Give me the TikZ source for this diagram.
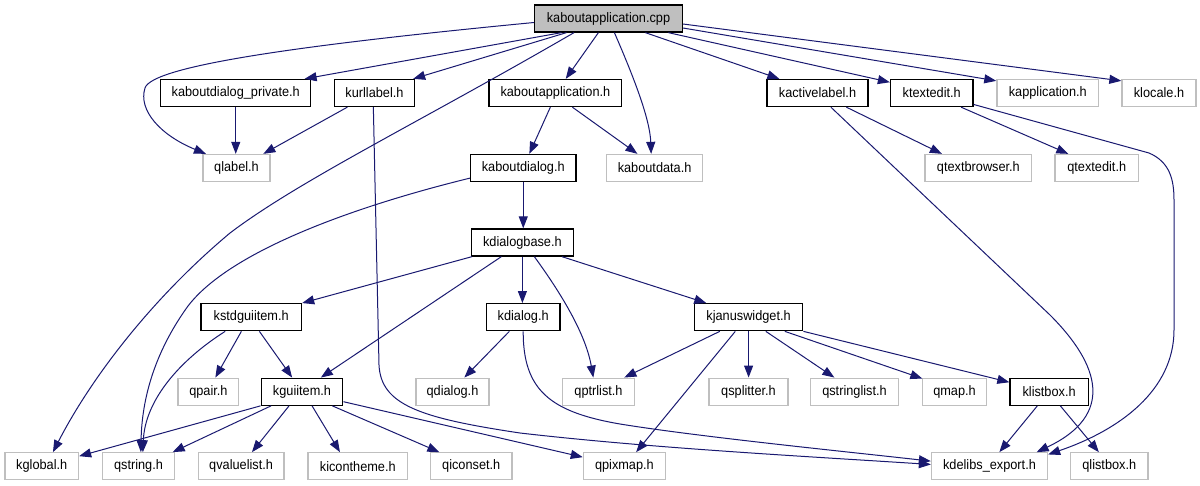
\documentclass[tikz,border=0pt]{standalone}
\usepackage{fontspec}
\setmainfont{Liberation Sans}[FakeStretch=0.93]
\usetikzlibrary{arrows.meta,calc}
\definecolor{edgec}{HTML}{191970}
\definecolor{grayb}{HTML}{BFBFBF}
\begin{document}
\begin{tikzpicture}[x=1pt,y=-1pt,
  box/.style={draw=black, line width=1.3pt, minimum height=27pt, inner sep=0pt, font=\fontsize{13.7}{15}\selectfont, anchor=center},
  ext/.style={box, draw=grayb},
  root/.style={box, fill=grayb, draw=black},
  dep/.style={draw=edgec, line width=1pt, -{Triangle[length=12pt,width=9pt]}}]
\useasboundingbox (0,0) rectangle (1200,485);
% row 0
\node[root, minimum width=147.7pt] (cpp) at (608.5,18.5) {kaboutapplication.cpp};
% row 1
\node[box, minimum width=150pt] (priv) at (235.75,93) {kaboutdialog\_private.h};
\node[box, minimum width=80pt] (kurl) at (374.5,93) {kurllabel.h};
\node[box, minimum width=132.8pt] (kapph) at (555.4,93) {kaboutapplication.h};
\node[box, minimum width=101pt] (kact) at (817.5,93) {kactivelabel.h};
\node[box, minimum width=82.5pt] (ktext) at (931.75,93) {ktextedit.h};
\node[ext, minimum width=101.8pt] (kappl) at (1047.8,93) {kapplication.h};
\node[ext, minimum width=74pt] (kloc) at (1159,93) {klocale.h};
% row 2
\node[ext, minimum width=67pt] (qlabel) at (236.5,168) {qlabel.h};
\node[box, minimum width=105.5pt] (kadlg) at (523.25,168) {kaboutdialog.h};
\node[ext, minimum width=96pt] (kadata) at (654.6,168) {kaboutdata.h};
\node[ext, minimum width=106.7pt] (qtb) at (978.4,168) {qtextbrowser.h};
\node[ext, minimum width=83.5pt] (qte) at (1096.75,168) {qtextedit.h};
% row 3
\node[box, minimum width=101.6pt] (kdb) at (522.4,242.5) {kdialogbase.h};
% row 4
\node[box, minimum width=100.7pt] (kstd) at (251.2,317.2) {kstdguiitem.h};
\node[box, minimum width=73.6pt] (kdlg) at (523.2,317.2) {kdialog.h};
\node[box, minimum width=108.3pt] (kjan) at (748.6,317.2) {kjanuswidget.h};
% row 5
\node[ext, minimum width=60.8pt] (qpair) at (208.4,391.7) {qpair.h};
\node[box, minimum width=81.6pt] (kgui) at (302,391.7) {kguiitem.h};
\node[ext, minimum width=73pt] (qdlg) at (452.5,391.7) {qdialog.h};
\node[ext, minimum width=72.5pt] (qptr) at (598.5,391.7) {qptrlist.h};
\node[ext, minimum width=79pt] (qspl) at (748.5,391.7) {qsplitter.h};
\node[ext, minimum width=88pt] (qsl) at (854.5,391.7) {qstringlist.h};
\node[ext, minimum width=64.2pt] (qmap) at (954.5,391.7) {qmap.h};
\node[box, minimum width=78.2pt] (klb) at (1049.1,391.7) {klistbox.h};
% row 6
\node[ext, minimum width=73.5pt] (kglob) at (41.75,466.3) {kglobal.h};
\node[ext, minimum width=72pt] (qstr) at (138.5,466.3) {qstring.h};
\node[ext, minimum width=85.8pt] (qvl) at (241.1,466.3) {qvaluelist.h};
\node[ext, minimum width=99.6pt] (kicon) at (357.8,466.3) {kicontheme.h};
\node[ext, minimum width=81.5pt] (qicon) at (471.25,466.3) {qiconset.h};
\node[ext, minimum width=82pt] (qpix) at (624.4,466.3) {qpixmap.h};
\node[ext, minimum width=116pt] (kdel) at (989.5,466.3) {kdelibs\_export.h};
\node[ext, minimum width=77.5pt] (qlb) at (1109.25,466.3) {qlistbox.h};

% edges from cpp
\draw[dep] ($(cpp.west)+(0,4)$) .. controls (300,45) and (152,66) .. (145,88) .. controls (138,110) and (160,135) .. ($(qlabel.north west)+(3.6,0)$);
\draw[dep] ($(cpp.south west)+(27.4,0)$) -- ($(priv.north east)+(-6.8,0)$);
\draw[dep] ($(cpp.south west)+(32.4,0)$) -- ($(kurl.north east)+(-2,0)$);
\draw[dep] ($(cpp.south west)+(40,0)$) .. controls (420,122) and (300,180) .. (230,233) .. controls (150,300) and (90,380) .. ($(kglob.north west)+(48.6,0)$);
\draw[dep] ($(cpp.south west)+(64.4,0)$) -- ($(kapph.north west)+(77.4,0)$);
\draw[dep] ($(cpp.south west)+(80.4,0)$) .. controls (635,80) and (650,120) .. ($(kadata.north west)+(45.2,0)$);
\draw[dep] ($(cpp.south west)+(111.4,0)$) -- ($(kact.north west)+(13,0)$);
\draw[dep] ($(cpp.south west)+(134.4,0)$) -- ($(ktext.north west)+(0,3.4)$);
\draw[dep] ($(cpp.east)+(0,9.5)$) -- ($(kappl.north west)+(0,2)$);
\draw[dep] ($(cpp.east)+(0,5.5)$) -- ($(kloc.north west)+(0,2)$);
% row 1 edges
\draw[dep] (priv.south) -- (priv.south |- qlabel.north);
\draw[dep] ($(kurl.south west)+(13.5,0)$) -- ($(qlabel.north west)+(61,0)$);
\draw[dep] ($(kurl.south west)+(39.5,0)$) -- (379,365) .. controls (381,405) and (420,418) .. (520,433) .. controls (650,448) and (800,456) .. ($(kdel.north west)+(0,12.3)$);
\draw[dep] ($(kact.south west)+(64.5,0)$) -- (1050,315) .. controls (1100,365) and (1115,415) .. ($(kdel.north east)+(-11.5,0)$);
\draw[dep] ($(ktext.south east)+(0,-2.7)$) -- (1149,153) .. controls (1170,162) and (1174,180) .. (1174,200) -- (1174,330) .. controls (1174,390) and (1120,430) .. ($(kdel.north east)+(0,2.3)$);
\draw[dep] ($(kact.south west)+(80,0)$) -- ($(qtb.north west)+(17.5,0)$);
\draw[dep] ($(ktext.south west)+(71.2,0)$) -- ($(qte.north west)+(14,0)$);
\draw[dep] ($(kapph.south west)+(62,0)$) -- ($(kadlg.north west)+(59.5,0)$);
\draw[dep] ($(kapph.south west)+(84,0)$) -- ($(kadata.north west)+(31.5,0)$);
% row 2 edges
\draw[dep] (kadlg.south) -- (kadlg.south |- kdb.north);
\draw[dep] ($(kadlg.south west)+(0,-4)$) .. controls (360,205) and (230,250) .. (187.5,306.7) .. controls (160,345) and (142,390) .. ($(qstr.north west)+(39,0)$);
% row 3 edges
\draw[dep] ($(kdb.south west)+(1,0)$) -- (kstd.north east);
\draw[dep] ($(kdb.south west)+(30.4,0)$) -- ($(kgui.north west)+(60.3,0)$);
\draw[dep] (kdb.south) -- (kdb.south |- kdlg.north);
\draw[dep] ($(kdb.south west)+(63.4,0)$) .. controls (555,285) and (585,330) .. ($(qptr.north west)+(31.7,0)$);
\draw[dep] ($(kdb.south west)+(91,0)$) -- ($(kjan.north west)+(12.5,0)$);
% row 4 edges
\draw[dep] ($(kstd.south west)+(25,0)$) .. controls (180,360) and (145,400) .. ($(qstr.north west)+(41,0)$);
\draw[dep] ($(kstd.south west)+(41.2,0)$) -- ($(qpair.north west)+(38,0)$);
\draw[dep] ($(kstd.south west)+(59.2,0)$) -- ($(kgui.north west)+(31.6,0)$);
\draw[dep] ($(kdlg.south west)+(23.6,0)$) -- ($(qdlg.north west)+(49,0)$);
\draw[dep] (kdlg.south) .. controls (523,390) and (550,412) .. (620,424) .. controls (700,437) and (850,452) .. ($(kdel.north west)+(0,9)$);
\draw[dep] ($(kjan.south west)+(26,0)$) -- ($(qptr.north west)+(62.7,0)$);
\draw[dep] ($(kjan.south west)+(41.5,0)$) -- ($(qpix.north west)+(53.4,0)$);
\draw[dep] (kjan.south) -- (kjan.south |- qspl.north);
\draw[dep] ($(kjan.south west)+(72,0)$) -- ($(qsl.north west)+(24.5,0)$);
\draw[dep] ($(kjan.south west)+(91,0)$) -- ($(qmap.north west)+(0.6,1)$);
\draw[dep] (kjan.south east) -- ($(klb.north west)+(0,4.7)$);
% row 5 edges
\draw[dep] ($(klb.south west)+(28,0)$) -- ($(kdel.north west)+(68.5,0)$);
\draw[dep] ($(klb.south west)+(51,0)$) -- ($(qlb.north west)+(29,0)$);
\draw[dep] (kgui.south west) -- ($(kglob.north east)+(0,4)$);
\draw[dep] ($(kgui.south west)+(10.5,0)$) -- ($(qstr.north east)+(-2.5,0)$);
\draw[dep] ($(kgui.south west)+(28.5,0)$) -- ($(qvl.north west)+(54.4,0)$);
\draw[dep] ($(kgui.south west)+(51.5,0)$) -- ($(kicon.north west)+(32.6,0)$);
\draw[dep] ($(kgui.south west)+(71.8,0)$) -- ($(qicon.north west)+(9.5,0)$);
\draw[dep] ($(kgui.east)+(0,10)$) -- ($(qpix.north west)+(0,5)$);
\end{tikzpicture}
\end{document}
